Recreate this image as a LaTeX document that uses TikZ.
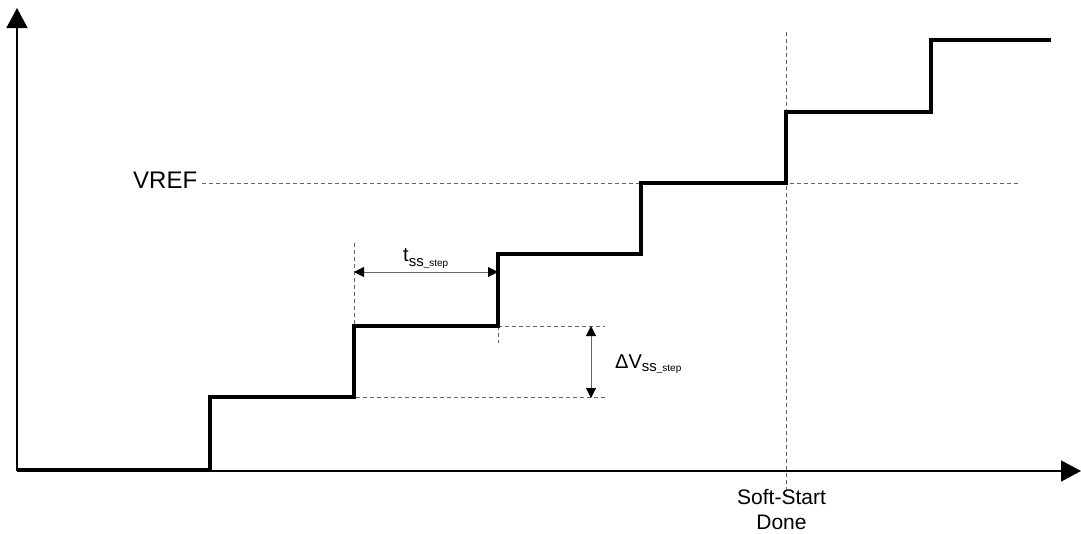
\documentclass[tikz,border=0pt]{standalone}
\usepackage{fontspec}
\setmainfont{Liberation Sans}
\usetikzlibrary{arrows.meta}
\begin{document}
\begin{tikzpicture}[x=1pt,y=-1pt,
  axis/.style={line width=1.5pt,-{Triangle[length=20pt,width=21pt]}},
  wave/.style={line width=4pt,line join=miter},
  guide/.style={black!60,line width=0.9pt,dash pattern=on 4pt off 3pt},
  dim/.style={black!60,line width=1pt,{Triangle[length=10pt,width=10pt,black]}-{Triangle[length=10pt,width=10pt,black]}},
  lbl/.style={inner sep=0pt,anchor=base west}
]
\useasboundingbox (0,0) rectangle (1081,533);
% axes
\coordinate (O) at (17,471);
\coordinate (ytip) at (17,8);
\coordinate (xtip) at (1081,471);
\draw[axis] (O) -- (ytip);
\draw[axis] (O) -- (xtip);
% step points
\coordinate (w0) at (17,469.5);
\coordinate (w1) at (210,397);
\coordinate (w2) at (354,326);
\coordinate (w3) at (498,254);
\coordinate (w4) at (641,183);
\coordinate (w5) at (786,112);
\coordinate (w6) at (931,40);
\coordinate (wend) at (1051,40);
% guides
\coordinate (vrefA) at (202,183);
\coordinate (vrefB) at (1020,183);
\draw[guide] (vrefA) -- (vrefB);
\coordinate (ssA) at (786,32);
\coordinate (ssB) at (786,497);
\draw[guide] (ssA) -- (ssB);
\coordinate (tA) at (354,243);
\coordinate (tB) at (354,326);
\draw[guide] (tA) -- (tB);
\coordinate (tC) at (498,326);
\coordinate (tD) at (498,343);
\draw[guide] (tC) -- (tD);
\coordinate (vA) at (605,326);
\coordinate (vB) at (356,397.5);
\coordinate (vC) at (605,397.5);
\draw[guide] (tC) -- (vA);
\draw[guide] (vB) -- (vC);
% waveform
\draw[wave] (w0) -| (w1) -| (w2) -| (w3) -| (w4) -| (w5) -| (w6) -- (wend);
% dimensions
\coordinate (d1) at (354,272);
\coordinate (d2) at (498,272);
\draw[dim] (d1) -- (d2);
\coordinate (d3) at (591,326);
\coordinate (d4) at (591,398);
\draw[dim] (d3) -- (d4);
% labels
\node[lbl,font=\fontsize{24}{28}\selectfont] (vref) at (133,188) {VREF};
\node[lbl,font=\fontsize{20}{24}\selectfont] (tss) at (403,261) {t\raisebox{-5pt}{\fontsize{15}{18}\selectfont ss\fontsize{10}{12}\selectfont\_step}};
\node[lbl,font=\fontsize{20}{24}\selectfont] (dv) at (615,368) {ΔV\raisebox{-3.5pt}{\fontsize{15}{18}\selectfont ss\fontsize{10}{12}\selectfont\_step}};
\node[inner sep=0pt,anchor=base,font=\fontsize{21}{28}\selectfont] (ss1) at (781.5,504) {Soft-Start};
\node[inner sep=0pt,anchor=base,font=\fontsize{21}{28}\selectfont] (ss2) at (781.5,529) {Done};
\end{tikzpicture}
\end{document}
